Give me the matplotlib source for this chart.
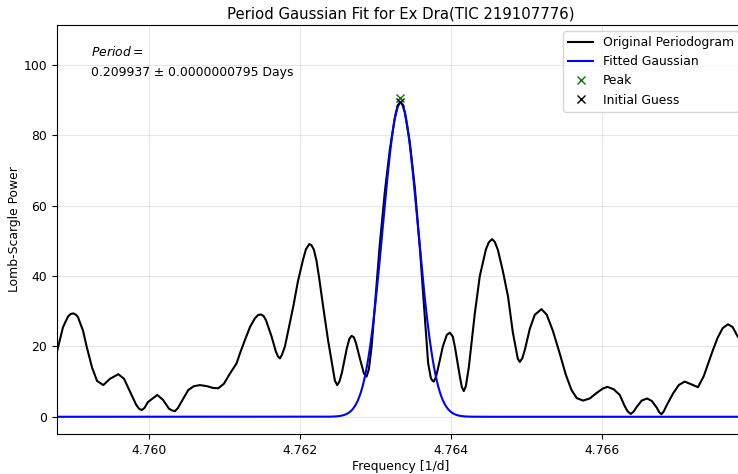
import numpy as np
import matplotlib
matplotlib.use("Agg")
import matplotlib.pyplot as plt

plt.rcParams["font.size"] = 8.9

# Lomb-Scargle periodogram around the main peak
freq = [4.758770, 4.758856, 4.758922, 4.758956, 4.758993, 4.759029, 4.759055,
        4.759121, 4.759170, 4.759241, 4.759307, 4.759390, 4.759479, 4.759589,
        4.759665, 4.759744, 4.759824, 4.759863, 4.759899, 4.759936, 4.759983,
        4.760106, 4.760182, 4.760261, 4.760301, 4.760341, 4.760380, 4.760433,
        4.760517, 4.760592, 4.760672, 4.760765, 4.760844, 4.760915, 4.760990,
        4.761070, 4.761158, 4.761202, 4.761268, 4.761335, 4.761401, 4.761441,
        4.761477, 4.761514, 4.761547, 4.761622, 4.761679, 4.761706, 4.761732,
        4.761759, 4.761799, 4.761852, 4.761909, 4.761971, 4.762037, 4.762077,
        4.762121, 4.762150, 4.762183, 4.762216, 4.762249, 4.762306, 4.762369,
        4.762435, 4.762461, 4.762492, 4.762521, 4.762554, 4.762620, 4.762654,
        4.762683, 4.762713, 4.762740, 4.762806, 4.762846, 4.762881, 4.762912,
        4.762948, 4.763005, 4.763058, 4.763124, 4.763190, 4.763257, 4.763296,
        4.763329, 4.763356, 4.763389, 4.763455, 4.763522, 4.763588, 4.763641,
        4.763698, 4.763734, 4.763754, 4.763773, 4.763800, 4.763826, 4.763893,
        4.763946, 4.763986, 4.764025, 4.764052, 4.764118, 4.764145, 4.764171,
        4.764198, 4.764237, 4.764317, 4.764383, 4.764463, 4.764502, 4.764546,
        4.764582, 4.764622, 4.764688, 4.764758, 4.764821, 4.764860, 4.764887,
        4.764913, 4.764946, 4.764980, 4.765046, 4.765112, 4.765201, 4.765271,
        4.765351, 4.765443, 4.765523, 4.765599, 4.765669, 4.765752, 4.765841,
        4.765934, 4.766013, 4.766076, 4.766159, 4.766239, 4.766305, 4.766345,
        4.766385, 4.766424, 4.766464, 4.766530, 4.766601, 4.766663, 4.766729,
        4.766762, 4.766791, 4.766822, 4.766862, 4.766945, 4.767021, 4.767100,
        4.767180, 4.767276, 4.767352, 4.767418, 4.767475, 4.767538, 4.767604,
        4.767674, 4.767736, 4.767803]
power = [18.0, 25.5, 28.5, 29.2, 29.4, 29.0, 28.3,
         24.5, 19.9, 14.0, 10.2, 9.0, 10.8, 12.1,
         10.8, 7.2, 3.5, 2.3, 1.9, 2.5, 4.2,
         6.2, 4.8, 2.3, 1.8, 1.6, 2.5, 4.5,
         7.6, 8.7, 9.0, 8.7, 8.2, 8.1, 9.4,
         12.3, 15.2, 18.0, 21.8, 25.5, 28.0, 28.9,
         29.1, 28.7, 27.5, 22.8, 18.5, 17.2, 16.6,
         17.6, 20.0, 25.5, 31.3, 38.5, 44.5, 47.6,
         49.1, 48.8, 47.5, 44.5, 40.0, 31.3, 22.0,
         13.5, 10.3, 9.0, 10.0, 12.5, 19.5, 22.2,
         23.0, 22.6, 21.0, 15.5, 12.3, 11.4, 13.5,
         19.9, 35.0, 49.3, 64.0, 76.0, 85.0, 88.3,
         89.4, 88.9, 86.5, 78.0, 65.0, 48.0, 32.0,
         15.2, 11.0, 10.3, 10.0, 11.2, 13.5, 20.0,
         23.3, 23.9, 22.8, 20.0, 11.5, 8.4, 7.3,
         8.7, 14.0, 29.4, 40.0, 47.5, 49.6, 50.5,
         49.7, 47.5, 41.5, 34.1, 24.0, 19.5, 16.5,
         15.6, 16.6, 19.0, 25.0, 29.0, 30.6, 29.0,
         24.5, 18.0, 12.0, 7.6, 5.3, 4.6, 5.2,
         6.8, 8.0, 8.5, 7.8, 6.2, 3.0, 1.5,
         0.8, 1.5, 2.8, 4.6, 5.2, 4.5, 2.6,
         1.3, 0.7, 1.5, 3.3, 6.6, 9.0, 10.0,
         9.3, 8.4, 11.5, 15.5, 19.0, 22.5, 25.2,
         26.3, 25.5, 22.8]

# Gaussian fit parameters
amp = 89.4
mu = 4.76333
sigma = 0.000232

peak_freq = 4.76333
peak_power = 90.6
guess_freq = 4.76333
guess_power = 89.6

period_text = "$Period =$\n0.209937 ± 0.0000000795 Days"

fig = plt.figure(figsize=(7.38, 4.74), dpi=100)
ax = fig.add_axes([0.0766, 0.0844, 0.9329, 0.8629])

ax.plot(freq, power, color="black", lw=1.5, label="Original Periodogram")
fx = np.linspace(4.7587, 4.7680, 2000)
ax.plot(fx, amp * np.exp(-(fx - mu) ** 2 / (2 * sigma ** 2)), color="blue",
        lw=1.5, label="Fitted Gaussian")
ax.plot([peak_freq], [peak_power], "x", color="green", ms=6, label="Peak")
ax.plot([guess_freq], [guess_power], "x", color="black", ms=6,
        label="Initial Guess")

ax.set_xlim(4.758770, 4.767900)
ax.set_ylim(-4.9, 111.4)
ax.set_xticks([4.760, 4.762, 4.764, 4.766])
ax.set_xticklabels(["4.760", "4.762", "4.764", "4.766"])
ax.grid(True, alpha=0.3)

ax.set_title("Period Gaussian Fit for Ex Dra(TIC 219107776)", fontsize=10.7,
             pad=4.5)
ax.set_xlabel("Frequency [1/d]", labelpad=2.5)
ax.set_ylabel("Lomb-Scargle Power", labelpad=1.5)
ax.text(0.05, 0.95, period_text, transform=ax.transAxes, va="top",
        ha="left", fontsize=8.9, linespacing=1.7)
ax.legend(loc="upper right", fontsize=8.9)

fig.savefig("out.png", dpi=100)
